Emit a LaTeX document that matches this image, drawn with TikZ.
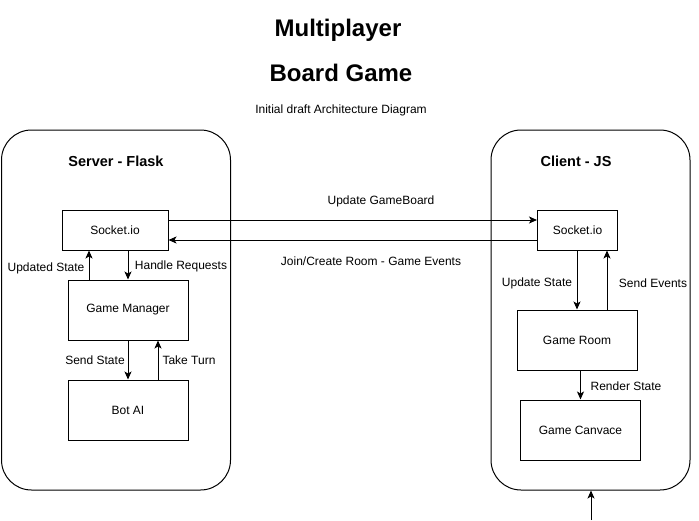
\documentclass[tikz,border=0pt]{standalone}
\usepackage{fontspec}
\setmainfont{Liberation Sans}
\usetikzlibrary{arrows.meta}
\begin{document}
\begin{tikzpicture}[x=1pt,y=-1pt,line width=1pt,>={Stealth[length=8pt,width=7pt,inset=2pt]},
  every node/.style={font=\fontsize{12}{14}\selectfont}]
  \tikzstyle{box}=[draw,rectangle,inner sep=0pt]
  \tikzstyle{frame}=[draw,rectangle,rounded corners=30pt,inner sep=0pt]
  \tikzstyle{heading}=[font=\fontsize{14.5}{17}\selectfont\bfseries]
  \tikzstyle{title}=[font=\fontsize{24}{28}\selectfont\bfseries]
  \useasboundingbox (0,0) rectangle (699,520);
  \node[title] (multi) at (338,30) {Multiplayer};
  \node[title] (board) at (341,73) {Board Game};
  \node (draft) at (341,110) {Initial draft Architecture Diagram};
  \node[frame,minimum width=229pt,minimum height=360pt] (server) at (116,310) {};
  \node[frame,minimum width=199pt,minimum height=360pt] (client) at (590.5,310) {};
  \node[heading] (servertitle) at (116,161) {Server - Flask};
  \node[heading] (clienttitle) at (576,161) {Client - JS};
  \node[box,minimum width=106pt,minimum height=40pt] (ssock) at (115,230) {Socket.io};
  \node[box,minimum width=120pt,minimum height=60pt] (manager) at (128,310) {Game Manager};
  \node[box,minimum width=120pt,minimum height=60pt] (bot) at (128,410) {Bot AI};
  \node[box,minimum width=80pt,minimum height=40pt] (csock) at (577.5,230) {Socket.io};
  \node[box,minimum width=120pt,minimum height=60pt] (room) at (577,340) {Game Room};
  \node[box,minimum width=120pt,minimum height=60pt] (canvas) at (580.5,430) {Game Canvace};
  \draw[->] ([yshift=10pt]ssock.east) -- ([yshift=10pt]csock.west);
  \draw[->] ([yshift=-10pt]csock.west) -- ([yshift=-10pt]ssock.east);
  \draw[->] ([xshift=-39pt]manager.north) -- ([xshift=-39pt]manager.north |- ssock.south);
  \draw[->] (ssock.south -| manager.north) -- (manager.north);
  \draw[->] (manager.south) -- (bot.north);
  \draw[->] ([xshift=30pt]bot.north) -- ([xshift=30pt]bot.north |- manager.south);
  \draw[->] (csock.south -| room.north) -- (room.north);
  \draw[->] ([xshift=30pt]room.north) -- ([xshift=30pt]room.north |- csock.south);
  \draw[->] (room.south -| canvas.north) -- (canvas.north);
  \coordinate (input) at (591,520);
  \draw[->] (input) -- (input |- client.south);
  \node (gameboard) at (381,201) {Update GameBoard};
  \node (joinroom) at (371,261) {Join/Create Room - Game Events};
  \node (updated) at (46,268) {Updated State};
  \node (handle) at (181,266) {Handle Requests};
  \node (sendstate) at (95,360) {Send State};
  \node (taketurn) at (189,360) {Take Turn};
  \node (updatestate) at (537,283) {Update State};
  \node (sendevents) at (653,283) {Send Events};
  \node (render) at (626,386) {Render State};
\end{tikzpicture}
\end{document}
